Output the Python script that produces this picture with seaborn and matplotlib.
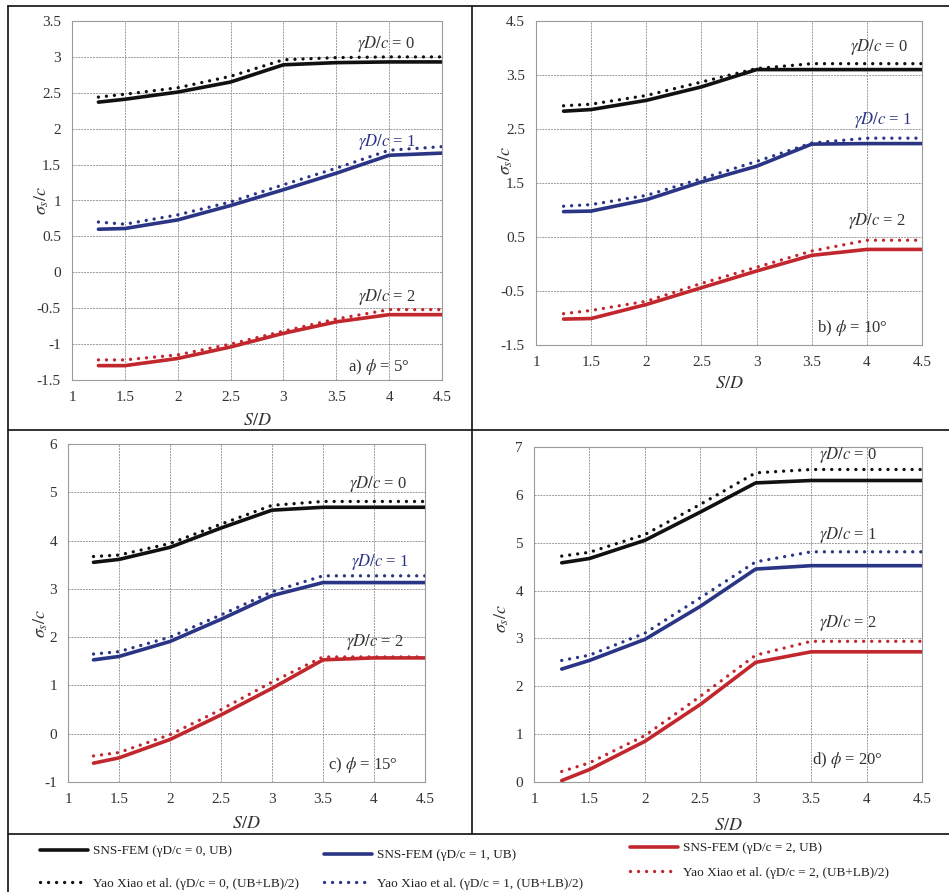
import matplotlib
matplotlib.use("Agg")
import matplotlib.pyplot as plt
from matplotlib.lines import Line2D
import seaborn as sns
import pandas as pd

# ---------------- data ----------------
sd = [1.25, 1.5, 2, 2.5, 3, 3.5, 4, 4.5]

# a) phi = 5
fem_a0 = [2.37, 2.41, 2.51, 2.65, 2.89, 2.92, 2.93, 2.93]
yao_a0 = [2.44, 2.48, 2.57, 2.73, 2.96, 2.99, 3.00, 3.00]
fem_a1 = [0.60, 0.61, 0.73, 0.93, 1.15, 1.38, 1.63, 1.66]
yao_a1 = [0.70, 0.67, 0.80, 0.98, 1.22, 1.45, 1.70, 1.75]
fem_a2 = [-1.30, -1.30, -1.20, -1.04, -0.85, -0.69, -0.59, -0.59]
yao_a2 = [-1.22, -1.22, -1.15, -1.00, -0.82, -0.65, -0.52, -0.52]

# b) phi = 10
fem_b0 = [2.83, 2.86, 3.03, 3.28, 3.60, 3.60, 3.60, 3.60]
yao_b0 = [2.93, 2.96, 3.12, 3.37, 3.62, 3.71, 3.71, 3.71]
fem_b1 = [0.97, 0.98, 1.19, 1.52, 1.81, 2.22, 2.23, 2.23]
yao_b1 = [1.07, 1.10, 1.27, 1.58, 1.90, 2.24, 2.33, 2.33]
fem_b2 = [-1.02, -1.01, -0.75, -0.44, -0.13, 0.16, 0.27, 0.27]
yao_b2 = [-0.92, -0.86, -0.69, -0.36, -0.06, 0.24, 0.44, 0.44]

# c) phi = 15
fem_c0 = [3.55, 3.61, 3.86, 4.26, 4.63, 4.69, 4.69, 4.69]
yao_c0 = [3.67, 3.70, 3.94, 4.34, 4.73, 4.81, 4.81, 4.81]
fem_c1 = [1.53, 1.60, 1.91, 2.37, 2.86, 3.13, 3.13, 3.13]
yao_c1 = [1.65, 1.70, 2.00, 2.46, 2.94, 3.27, 3.27, 3.27]
fem_c2 = [-0.61, -0.50, -0.12, 0.39, 0.94, 1.53, 1.57, 1.57]
yao_c2 = [-0.46, -0.39, -0.02, 0.50, 1.07, 1.59, 1.59, 1.59]

# d) phi = 20
fem_d0 = [4.58, 4.67, 5.05, 5.64, 6.25, 6.30, 6.30, 6.30]
yao_d0 = [4.72, 4.80, 5.17, 5.80, 6.46, 6.53, 6.53, 6.53]
fem_d1 = [2.36, 2.54, 2.98, 3.67, 4.45, 4.52, 4.52, 4.52]
yao_d1 = [2.54, 2.65, 3.11, 3.85, 4.60, 4.81, 4.81, 4.81]
fem_d2 = [0.03, 0.26, 0.85, 1.62, 2.50, 2.72, 2.72, 2.72]
yao_d2 = [0.22, 0.40, 0.97, 1.79, 2.65, 2.94, 2.94, 2.94]

panel_labels = ["a) $\\phi$ = 5°", "b) $\\phi$ = 10°", "c) $\\phi$ = 15°", "d) $\\phi$ = 20°"]
gamma_labels = ["$\\gamma D/c$ = 0", "$\\gamma D/c$ = 1", "$\\gamma D/c$ = 2"]
y_limits = [(-1.5, 3.5), (-1.5, 4.5), (-1, 6), (0, 7)]
y_ticks = [[-1.5, -1, -0.5, 0, 0.5, 1, 1.5, 2, 2.5, 3, 3.5],
           [-1.5, -0.5, 0.5, 1.5, 2.5, 3.5, 4.5],
           [-1, 0, 1, 2, 3, 4, 5, 6],
           [0, 1, 2, 3, 4, 5, 6, 7]]
x_ticks = [1, 1.5, 2, 2.5, 3, 3.5, 4, 4.5]
legend_fem = ["SNS-FEM (γD/c = 0, UB)", "SNS-FEM (γD/c = 1, UB)", "SNS-FEM (γD/c = 2, UB)"]
legend_yao = ["Yao Xiao et al. (γD/c = 0, (UB+LB)/2)",
              "Yao Xiao et al. (γD/c = 1, (UB+LB)/2)",
              "Yao Xiao et al. (γD/c = 2, (UB+LB)/2)"]

panels = [
    [(fem_a0, yao_a0), (fem_a1, yao_a1), (fem_a2, yao_a2)],
    [(fem_b0, yao_b0), (fem_b1, yao_b1), (fem_b2, yao_b2)],
    [(fem_c0, yao_c0), (fem_c1, yao_c1), (fem_c2, yao_c2)],
    [(fem_d0, yao_d0), (fem_d1, yao_d1), (fem_d2, yao_d2)],
]

# ---------------- style ----------------
sns.set_theme(style="white")
plt.rcParams["font.family"] = ["Liberation Serif", "DejaVu Serif"]
plt.rcParams["mathtext.fontset"] = "stix"

colors = ["#111111", "#2b3585", "#c1272d"]
W, H = 949, 892
fig = plt.figure(figsize=(W / 100, H / 100), dpi=100)

def fr(x0, y0, x1, y1):
    return [x0 / W, 1 - y1 / H, (x1 - x0) / W, (y1 - y0) / H]

axes_rects = [fr(72, 21, 442, 380), fr(536, 21, 922, 345),
              fr(68, 444, 425, 782), fr(534, 447, 922, 782)]

gamma_pos = [
    [(0.85, 0.936), (0.85, 0.663), (0.85, 0.231)],
    [(0.89, 0.92), (0.90, 0.694), (0.883, 0.384)],
    [(0.868, 0.882), (0.874, 0.652), (0.86, 0.415)],
    [(0.81, 0.976), (0.81, 0.737), (0.81, 0.475)],
]
gamma_cols = [["#333333", "#2b3585", "#333333"],
              ["#333333", "#2b3585", "#333333"],
              ["#333333", "#2b3585", "#333333"],
              ["#333333", "#333333", "#333333"]]
label_pos = [(0.83, 0.035), (0.82, 0.052), (0.827, 0.05), (0.807, 0.066)]
xlabel_coords = [(0.5, -0.089), (0.5, -0.093), (0.5, -0.098), (0.5, -0.104)]
ylabel_coords = [(-0.057, 0.5), (-0.054, 0.571), (-0.050, 0.47), (-0.060, 0.49)]

for i, rect in enumerate(axes_rects):
    ax = fig.add_axes(rect)
    for j, (fem, yao) in enumerate(panels[i]):
        df = pd.DataFrame({"S/D": sd, "fem": fem, "yao": yao})
        sns.lineplot(data=df, x="S/D", y="yao", ax=ax, color=colors[j],
                     linewidth=2.4, linestyle=(0, (0.01, 2.4)),
                     dash_capstyle="round", zorder=3)
        sns.lineplot(data=df, x="S/D", y="fem", ax=ax, color=colors[j],
                     linewidth=2.6, linestyle="-", zorder=4)
    ax.set_xlim(1, 4.5)
    ax.set_ylim(*y_limits[i])
    ax.set_xticks(x_ticks)
    ax.set_xticklabels([f"{t:g}" for t in x_ticks])
    ax.set_yticks(y_ticks[i])
    ax.set_yticklabels([f"{t:g}" for t in y_ticks[i]])
    ax.grid(True, color="#9a9a9a", linestyle=(0, (2, 1)), linewidth=0.7)
    for s in ax.spines.values():
        s.set_color("#9a9a9a")
        s.set_linestyle((0, (2, 1)))
        s.set_linewidth(0.8)
    ax.tick_params(length=0, labelsize=11, colors="#333333", pad=8)
    ax.set_xlabel("$S/D$", fontsize=13, color="#333333")
    ax.set_ylabel("$\\sigma_s/c$", fontsize=13, color="#333333")
    ax.xaxis.set_label_coords(*xlabel_coords[i])
    ax.yaxis.set_label_coords(*ylabel_coords[i])
    for j in range(3):
        ax.text(*gamma_pos[i][j], gamma_labels[j], transform=ax.transAxes,
                ha="center", va="center", fontsize=12, color=gamma_cols[i][j])
    ax.text(*label_pos[i], panel_labels[i], transform=ax.transAxes,
            ha="center", va="center", fontsize=12, color="#333333")

# ---------------- borders ----------------
def fline(x0, y0, x1, y1, lw=1.3):
    fig.add_artist(Line2D([x0 / W, x1 / W], [1 - y0 / H, 1 - y1 / H],
                          transform=fig.transFigure, color="#222222", lw=lw))

fline(8, 6, 949, 6)
fline(8, 6, 8, 892)
fline(8, 430, 949, 430)
fline(472, 6, 472, 834)
fline(8, 834, 949, 834)

# ---------------- legends ----------------
leg_pos = [(40, 845), (324, 849), (630, 842)]
leg_spacing = [1.55, 1.25, 0.95]
for j in range(3):
    handles = [Line2D([], [], color=colors[j], lw=2.6),
               Line2D([], [], color=colors[j], lw=2.4, linestyle=(0, (0.01, 2.4)),
                      dash_capstyle="round")]
    leg = fig.legend(handles, [legend_fem[j], legend_yao[j]],
                     loc="upper left",
                     bbox_to_anchor=(leg_pos[j][0] / W, 1 - leg_pos[j][1] / H),
                     frameon=False, fontsize=9.5, handlelength=3.6,
                     handletextpad=0.45, labelspacing=leg_spacing[j], borderpad=0,
                     borderaxespad=0)
    for t in leg.get_texts():
        t.set_color("#222222")

fig.savefig("out.png", dpi=100)
